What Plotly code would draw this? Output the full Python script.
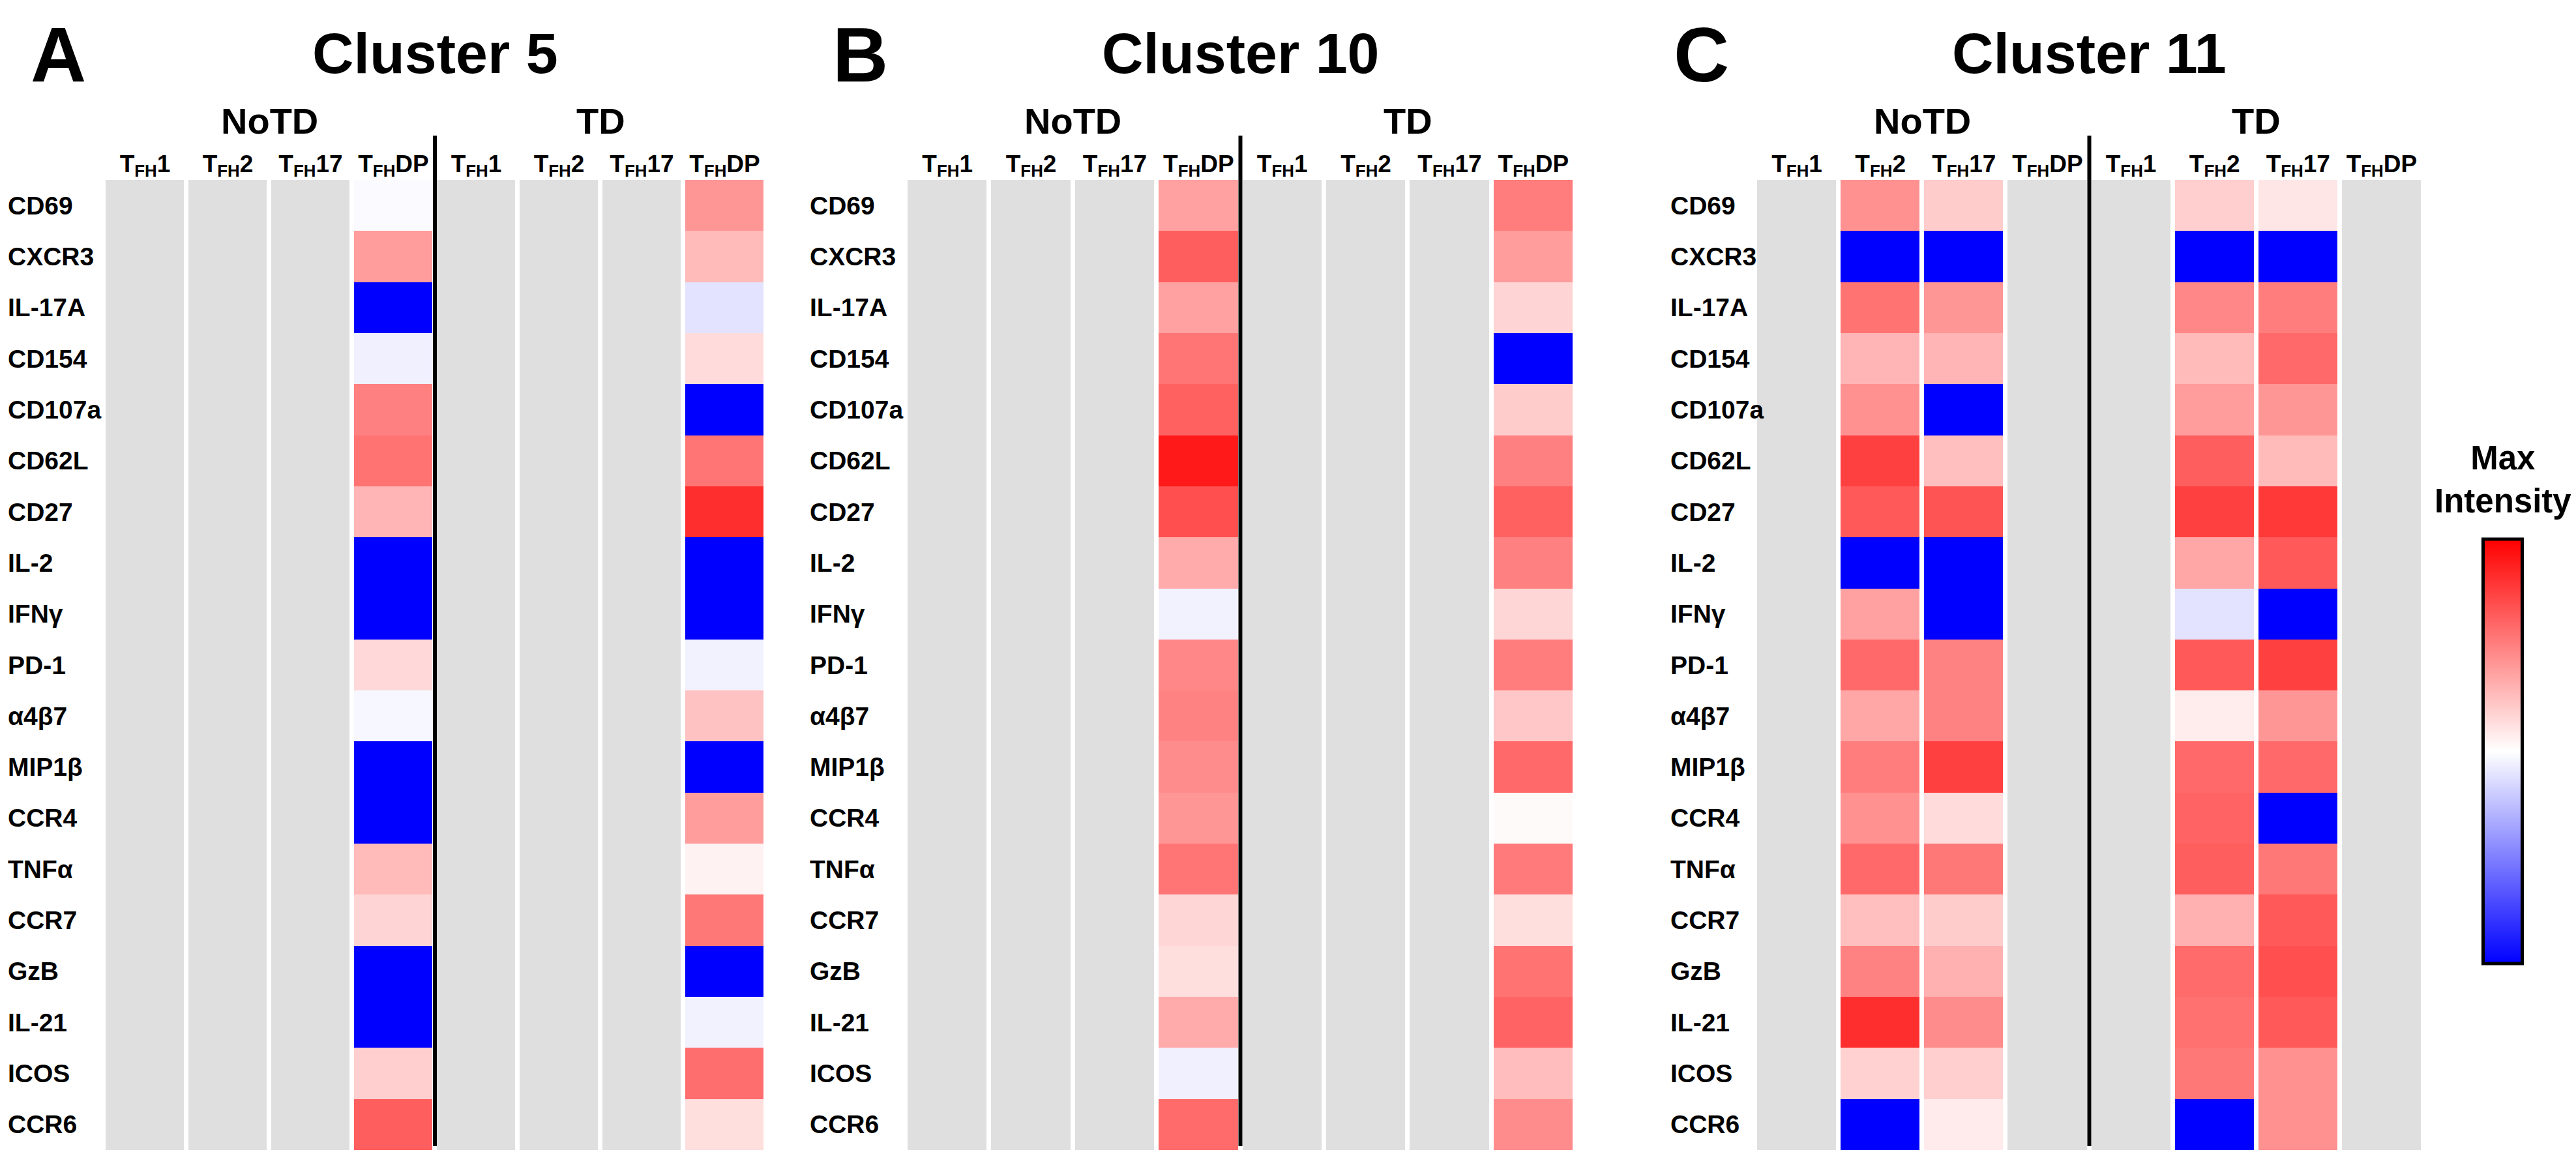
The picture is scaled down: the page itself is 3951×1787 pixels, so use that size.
import plotly.graph_objects as go

# ---------------- data ----------------
markers = ["CD69", "CXCR3", "IL-17A", "CD154", "CD107a", "CD62L", "CD27", "IL-2",
           "IFNγ", "PD-1", "α4β7", "MIP1β", "CCR4", "TNFα", "CCR7", "GzB",
           "IL-21", "ICOS", "CCR6"]
subsets = ["T<sub>FH</sub>1", "T<sub>FH</sub>2", "T<sub>FH</sub>17", "T<sub>FH</sub>DP"]
conditions = ["NoTD", "TD"]

# values: -1 = blue (min), 0 = white, 1 = red (max); columns not listed are missing (grey)
c5_notd_dp = [-0.02, 0.39, -1, -0.06, 0.50, 0.55, 0.29, -1, -1, 0.15, -0.03, -1, -1,
              0.27, 0.17, -1, -1, 0.19, 0.63]
c5_td_dp = [0.41, 0.27, -0.11, 0.14, -1, 0.54, 0.82, -1, -1, -0.05, 0.24, -1, 0.39,
            0.05, 0.53, -1, -0.05, 0.57, 0.13]

c10_notd_dp = [0.37, 0.63, 0.37, 0.54, 0.62, 0.90, 0.69, 0.33, -0.05, 0.47, 0.49, 0.45,
               0.41, 0.54, 0.16, 0.13, 0.33, -0.06, 0.58]
c10_td_dp = [0.51, 0.39, 0.17, -1, 0.20, 0.50, 0.62, 0.50, 0.16, 0.51, 0.22, 0.59,
             0.02, 0.52, 0.13, 0.55, 0.61, 0.26, 0.45]

c11_notd_tfh2 = [0.43, -1, 0.55, 0.29, 0.43, 0.75, 0.65, -1, 0.37, 0.59, 0.35, 0.51,
                 0.43, 0.59, 0.25, 0.49, 0.82, 0.18, -1]
c11_notd_tfh17 = [0.20, -1, 0.41, 0.29, -1, 0.25, 0.67, -1, -1, 0.49, 0.49, 0.75,
                  0.14, 0.53, 0.20, 0.31, 0.45, 0.19, 0.08]
c11_td_tfh2 = [0.19, -1, 0.47, 0.27, 0.39, 0.63, 0.75, 0.35, -0.11, 0.65, 0.07, 0.59,
               0.61, 0.63, 0.31, 0.58, 0.56, 0.53, -1]
c11_td_tfh17 = [0.10, -1, 0.51, 0.59, 0.41, 0.27, 0.78, 0.65, -1, 0.75, 0.41, 0.59,
                -1, 0.53, 0.65, 0.69, 0.65, 0.43, 0.43]

panels = [
    ("A", "Cluster 5", {3: c5_notd_dp, 7: c5_td_dp}),
    ("B", "Cluster 10", {3: c10_notd_dp, 7: c10_td_dp}),
    ("C", "Cluster 11", {1: c11_notd_tfh2, 2: c11_notd_tfh17,
                         5: c11_td_tfh2, 6: c11_td_tfh17}),
]

# ---------------- layout geometry ----------------
W, H = 3951, 1787
FONT = "Liberation Sans, Arial, sans-serif"
x_domains = [(151 / W, 1167 / W), (1381 / W, 2408 / W), (2684 / W, 3709 / W)]
y_domain = ((H - 1756) / H, (H - 268) / H)
label_x = [2 / W, 1232 / W, 2552 / W]
letter_x = [37 / W, 1267 / W, 2557 / W]

colorscale = [[0.0, "rgb(0,0,255)"], [0.5, "rgb(255,255,255)"], [1.0, "rgb(255,0,0)"]]
GREY = "rgb(223,223,223)"

ncol = len(conditions) * len(subsets)
xs = list(range(ncol))
ys = list(range(len(markers)))
ticktext = subsets * len(conditions)

fig = go.Figure()
annotations = []
shapes = []

for p, (letter, title, cols) in enumerate(panels):
    ax = "" if p == 0 else str(p + 1)
    z = [[None] * ncol for _ in markers]
    for c, vals in cols.items():
        for r, v in enumerate(vals):
            z[r][c] = v
    zg = [[1 if z[r][c] is None else None for c in range(ncol)] for r in range(len(markers))]

    fig.add_trace(go.Heatmap(
        x=xs, y=ys, z=zg, xaxis="x" + ax, yaxis="y" + ax,
        colorscale=[[0, GREY], [1, GREY]], showscale=False, xgap=7, ygap=0,
        hoverinfo="skip"))
    fig.add_trace(go.Heatmap(
        x=xs, y=ys, z=z, xaxis="x" + ax, yaxis="y" + ax,
        colorscale=colorscale, zmin=-1, zmax=1, xgap=7, ygap=0,
        showscale=(p == 2),
        colorbar=dict(thickness=60, len=671, lenmode="pixels",
                      x=3833 / W, xanchor="center", y=1 - 1144.5 / H, yanchor="middle",
                      outlinewidth=5, outlinecolor="black", ticks="",
                      showticklabels=False)))

    fig.layout["xaxis" + ax] = dict(
        domain=list(x_domains[p]), range=[-0.5, ncol - 0.5], anchor="y" + ax,
        tickvals=xs, ticktext=ticktext, side="top", showgrid=False, zeroline=False,
        ticks="", showline=False, ticklabelstandoff=4,
        tickfont=dict(family=FONT, size=37, color="black", weight="bold"))
    fig.layout["yaxis" + ax] = dict(
        domain=list(y_domain), range=[len(markers) - 0.5, -0.5], anchor="x" + ax,
        showticklabels=False, showgrid=False, zeroline=False, ticks="")

    # row labels
    for r, m in enumerate(markers):
        annotations.append(dict(
            text="<b>%s</b>" % m, x=label_x[p], xref="paper", y=r, yref="y" + ax,
            xanchor="left", yanchor="middle", showarrow=False,
            font=dict(family=FONT, size=39, color="black")))
    # group labels
    for g, cond in enumerate(conditions):
        annotations.append(dict(
            text="<b>%s</b>" % cond, x=1.5 + 4 * g, xref="x" + ax,
            y=1 - 178 / H, yref="paper", xanchor="center", yanchor="middle",
            showarrow=False, font=dict(family=FONT, size=56, color="black")))
    # title and panel letter
    annotations.append(dict(
        text="<b>%s</b>" % title, x=sum(x_domains[p]) / 2, xref="paper",
        y=1 - 74 / H, yref="paper", xanchor="center", yanchor="middle",
        showarrow=False, font=dict(family=FONT, size=88, color="black")))
    annotations.append(dict(
        text="<b>%s</b>" % letter, x=letter_x[p], xref="paper",
        y=1 - 76 / H, yref="paper", xanchor="left", yanchor="middle",
        showarrow=False, font=dict(family=FONT, size=118, color="black")))
    # separator between NoTD and TD
    shapes.append(dict(type="line", xref="x" + ax, yref="paper",
                       x0=3.5, x1=3.5, y0=(H - 1750) / H, y1=(H - 200) / H,
                       line=dict(color="black", width=6)))

annotations.append(dict(
    text="<b>Max<br>Intensity</b>", x=3831 / W, xref="paper", y=1 - 727 / H, yref="paper",
    xanchor="center", yanchor="middle", align="center", showarrow=False,
    font=dict(family=FONT, size=51, color="black")))

fig.update_layout(
    width=W, height=H, margin=dict(l=0, r=0, t=0, b=0),
    paper_bgcolor="white", plot_bgcolor="white",
    annotations=annotations, shapes=shapes, showlegend=False)

fig.write_html("out.html")
